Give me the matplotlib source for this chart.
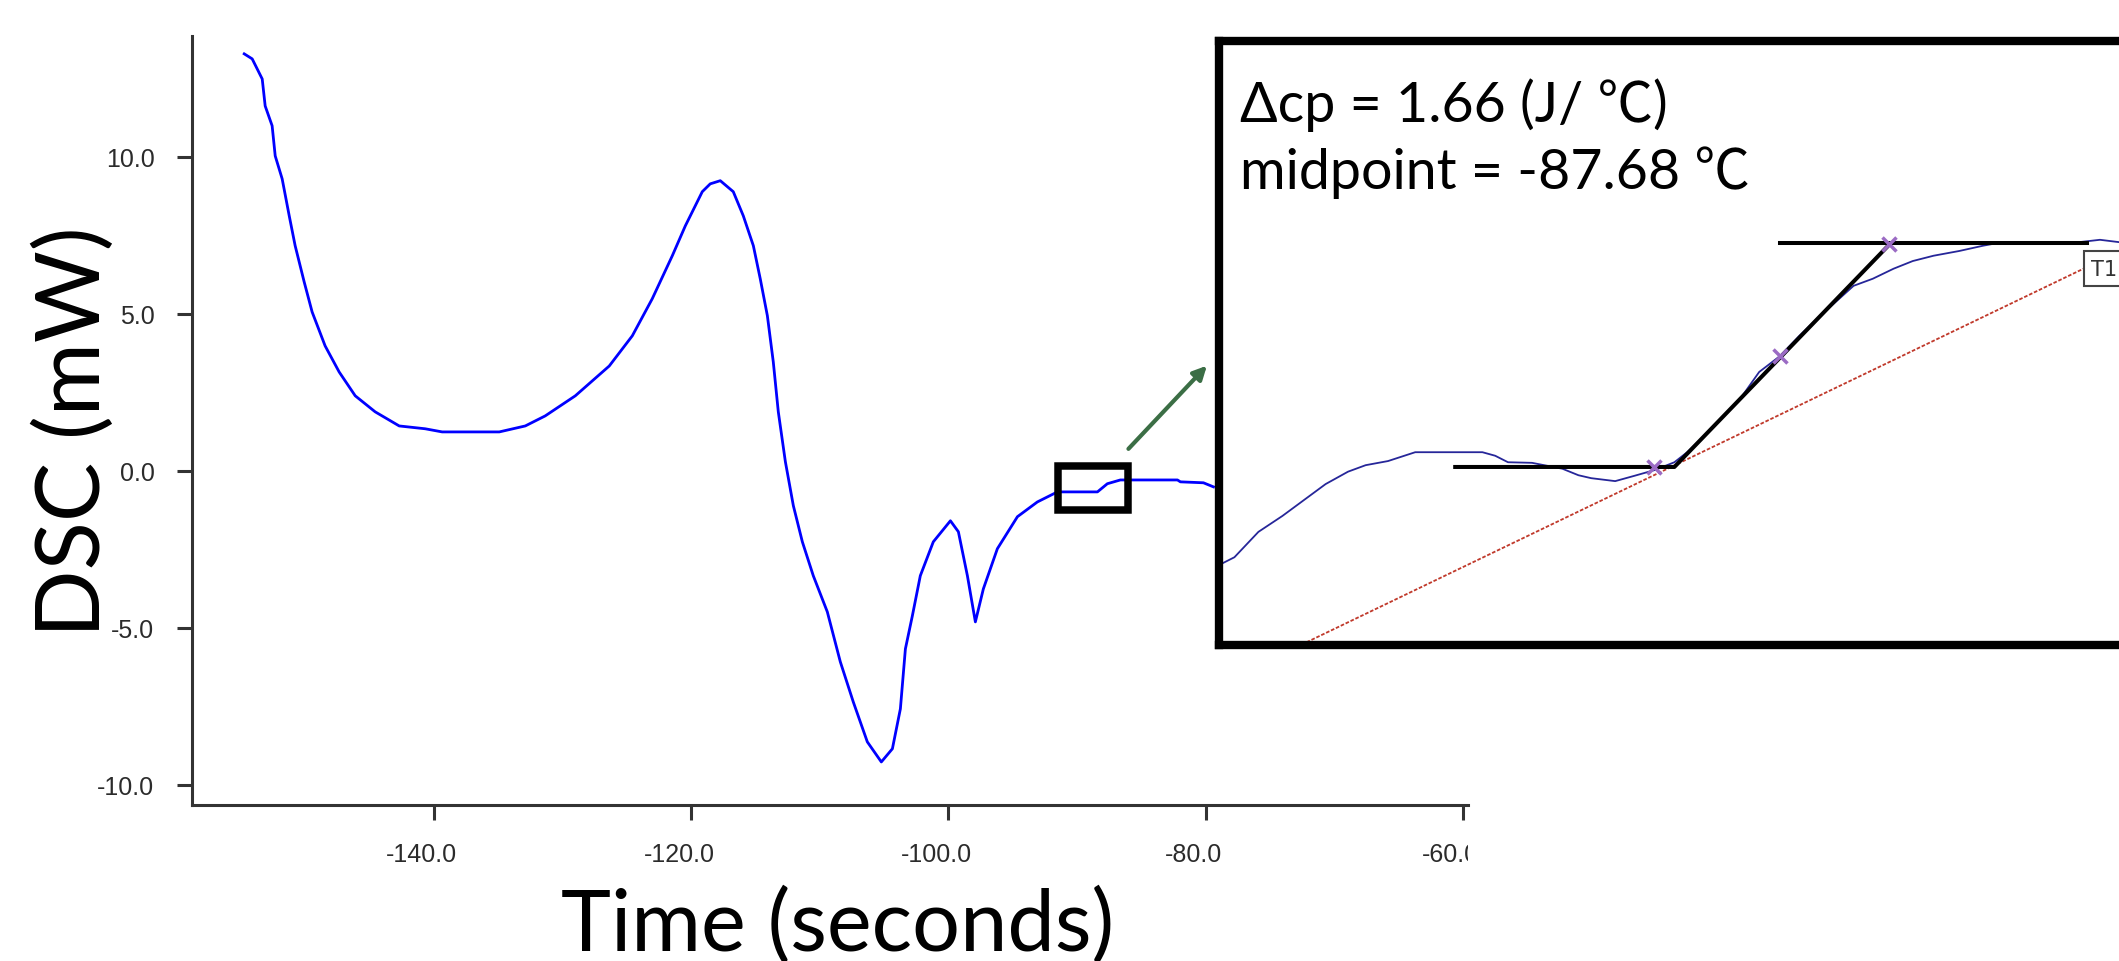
import matplotlib
matplotlib.use('Agg')
import matplotlib.pyplot as plt
from matplotlib.patches import Rectangle
from matplotlib.transforms import ScaledTranslation, Bbox, TransformedBbox

plt.rcParams['font.family'] = ['Lato', 'Noto Sans CJK JP', 'DejaVu Sans']

# MAIN DSC TRACE
time_s = [-154.74, -154.12, -153.34, -153.11, -152.57, -152.33, -151.79, -151.24, -150.78, -150.08,
          -149.46, -148.45, -147.36, -146.11, -144.56, -142.69, -140.67, -139.35, -134.91, -132.89,
          -131.34, -129.00, -126.36, -124.57, -123.02, -121.46, -120.45, -119.13, -118.51, -117.73,
          -116.72, -115.94, -115.16, -114.62, -114.07, -113.61, -113.22, -112.67, -112.05, -111.35,
          -110.50, -109.41, -108.40, -107.39, -106.30, -105.21, -104.35, -103.73, -103.34, -102.80,
          -102.18, -101.17, -99.84, -99.22, -98.52, -97.90, -97.28, -96.19, -94.63, -93.08,
          -91.52, -88.41, -87.64, -86.63, -82.19, -81.96, -80.17, -79.39]
dsc_mw = [13.28, 13.12, 12.48, 11.62, 10.99, 10.03, 9.30, 8.12, 7.17, 6.02,
          5.06, 3.98, 3.15, 2.39, 1.88, 1.43, 1.34, 1.24, 1.24, 1.43,
          1.75, 2.39, 3.34, 4.30, 5.48, 6.85, 7.80, 8.89, 9.14, 9.24,
          8.89, 8.12, 7.17, 6.11, 4.94, 3.47, 1.88, 0.29, -1.11, -2.26,
          -3.34, -4.49, -6.08, -7.36, -8.63, -9.27, -8.85, -7.58, -5.67, -4.62,
          -3.34, -2.26, -1.59, -1.94, -3.34, -4.81, -3.76, -2.48, -1.46, -0.99,
          -0.67, -0.67, -0.41, -0.29, -0.29, -0.35, -0.38, -0.51]

x_ticks = [-140, -120, -100, -80, -60]
y_ticks = [-10, -5, 0, 5, 10]

# zoom window and arrow
zoom_x = [-91.45, -86.0]
zoom_y = [-1.24, 0.16]
arrow_start = (-86.0, 0.70)
arrow_end = (-79.9, 3.35)

# INSET (glass transition close-up)
inset_t = [-91.17, -91.09, -90.94, -90.79, -90.67, -90.52, -90.38, -90.27, -90.13, -89.96,
           -89.76, -89.54, -89.46, -89.38, -89.23, -89.04, -88.94, -88.86, -88.71, -88.59,
           -88.46, -88.34, -88.26, -88.13, -88.01, -87.93, -87.81, -87.68, -87.56, -87.43,
           -87.31, -87.22, -87.10, -86.97, -86.85, -86.72, -86.56, -86.41, -86.31, -85.81,
           -85.68, -85.56]
inset_mw = [-0.834, -0.823, -0.780, -0.753, -0.729, -0.699, -0.678, -0.667, -0.660, -0.645,
            -0.645, -0.645, -0.651, -0.662, -0.663, -0.673, -0.684, -0.689, -0.694, -0.685,
            -0.675, -0.662, -0.645, -0.611, -0.577, -0.555, -0.509, -0.482, -0.448, -0.414,
            -0.385, -0.363, -0.351, -0.334, -0.321, -0.312, -0.304, -0.295, -0.290, -0.289,
            -0.285, -0.289]
tangent_t = [-89.71, -88.34, -87.00]
tangent_mw = [-0.670, -0.670, -0.294]
upper_t = [-87.68, -85.76]
upper_mw = [-0.290, -0.290]
base_t = [-90.70, -85.76]
base_mw = [-0.975, -0.331]
mark_t = [-88.47, -87.68, -87.00]
mark_mw = [-0.670, -0.482, -0.292]
dcp_text = 'Δcp = 1.66 (J/ ℃)'
mid_text = 'midpoint = -87.68 ℃'

fig = plt.figure(figsize=(21.19, 9.62), dpi=100)

ax = fig.add_axes([0.0906, 0.1622, 0.6022, 0.7994])
ax.plot(time_s, dsc_mw, color='#0000ff', lw=2.0)
ax.set_xlim(-158.8, -59.6)
ax.set_ylim(-10.64, 13.85)
for s in ['top', 'right']:
    ax.spines[s].set_visible(False)
for s in ['left', 'bottom']:
    ax.spines[s].set_color('#333333')
    ax.spines[s].set_linewidth(2.2)
ax.set_xticks(x_ticks)
ax.set_xticklabels([f'{v:.1f}' for v in x_ticks])
ax.set_yticks(y_ticks)
ax.set_yticklabels([f'{v:.1f}' for v in y_ticks])
ax.tick_params(length=11, width=2.2, color='#333333', pad=16, labelsize=18, labelcolor='#2b2b2b')

clip = TransformedBbox(Bbox.from_extents(0, 0, 0.6928, 1), fig.transFigure)
shift = ScaledTranslation(-0.12, 0, fig.dpi_scale_trans)
for lab in ax.get_xticklabels():
    lab.set_fontfamily('Liberation Sans')
    lab.set_transform(lab.get_transform() + shift)
    lab.set_clip_on(True)
    lab.set_clip_box(clip)
for lab in ax.get_yticklabels():
    lab.set_fontfamily('Liberation Sans')

ax.add_patch(Rectangle((zoom_x[0], zoom_y[0]), zoom_x[1] - zoom_x[0], zoom_y[1] - zoom_y[0],
                       fill=False, ec='black', lw=5.4, joinstyle='miter', zorder=3))
ax.annotate('', xy=arrow_end, xytext=arrow_start,
            arrowprops=dict(arrowstyle='-|>', color='#3b6e45', lw=3.0,
                            mutation_scale=20, shrinkA=0, shrinkB=0))

fig.text(0.0354, 0.551, 'DSC (mW)', rotation=90, ha='center', va='center', fontsize=64)
fig.text(0.3955, 0.0125, 'Time (seconds)', ha='center', va='baseline', fontsize=61)

# INSET
ax_in = fig.add_axes([0.5753, 0.3285, 0.4247, 0.6279], zorder=5)
ax_in.set_facecolor('white')
ax_in.set_xlim(-91.186, -85.561)
ax_in.set_ylim(-0.9717, 0.052)
ax_in.set_xticks([])
ax_in.set_yticks([])
ax_in.spines['right'].set_visible(False)
for s in ['left', 'top', 'bottom']:
    ax_in.spines[s].set_linewidth(6)
    ax_in.spines[s].set_color('black')

ax_in.plot(base_t, base_mw, color='#c0392b', lw=1.3, ls=(0, (2, 1)))
ax_in.plot(inset_t, inset_mw, color='#262699', lw=1.3)
ax_in.plot(tangent_t, tangent_mw, color='black', lw=2.9)
ax_in.plot(upper_t, upper_mw, color='black', lw=2.9)
ax_in.plot(mark_t, mark_mw, ls='none', marker='x', ms=10, mew=2.5, color='#9b6bc4')
ax_in.text(-85.735, -0.334, 'T1', ha='left', va='center', fontsize=15, family='DejaVu Sans',
           color='#333333', bbox=dict(boxstyle='square,pad=0.35', fc='white', ec='#444444', lw=1.5))

ax_in.text(0.023, 0.8675, dcp_text, transform=ax_in.transAxes, fontsize=40, va='baseline')
ax_in.text(0.023, 0.757, mid_text, transform=ax_in.transAxes, fontsize=40, va='baseline')

plt.savefig('out.png', dpi=100)
